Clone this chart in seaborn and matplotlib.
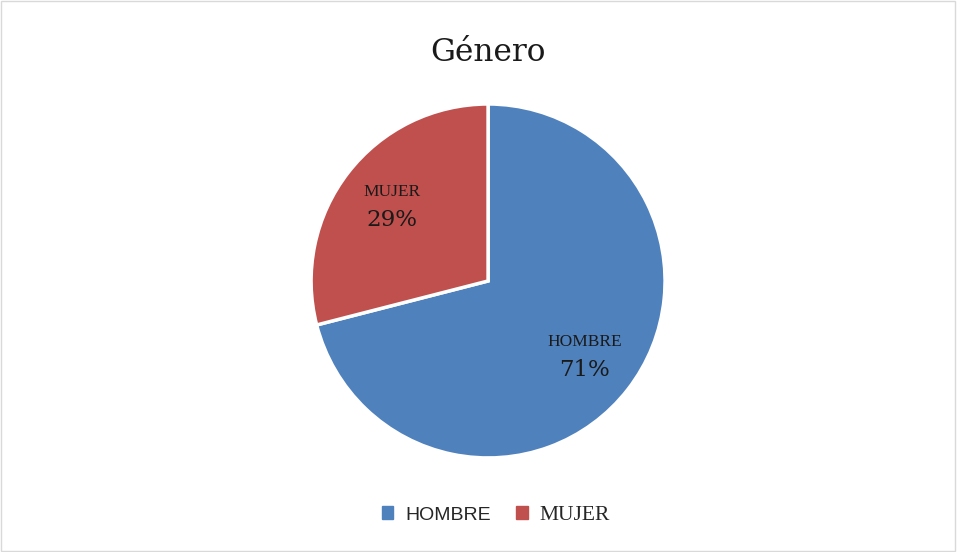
import matplotlib
matplotlib.use("Agg")
import matplotlib.pyplot as plt
import matplotlib.patches as mpatches
import numpy as np
import seaborn as sns

# datos
categorias = ["HOMBRE", "MUJER"]
porcentajes = [71, 29]
colores = ["#4F81BD", "#C0504D"]

sns.set_theme(style="white")
plt.rcParams['font.family'] = ['DejaVu Serif']

fig = plt.figure(figsize=(9.57, 5.52), dpi=100)
ax = fig.add_axes([0.326, 0.172, 0.368, 0.638])

wedges, _ = ax.pie(porcentajes, colors=colores, startangle=90, counterclock=False,
                   wedgeprops=dict(edgecolor="white", linewidth=2.5))
ax.set_aspect("auto")
ax.set_xlim(-0.995, 0.995)
ax.set_ylim(-0.995, 0.995)

# etiquetas dentro de cada porción
for w, cat, p in zip(wedges, categorias, porcentajes):
    ang = np.deg2rad((w.theta1 + w.theta2) / 2)
    x, y = 0.69 * np.cos(ang), 0.69 * np.sin(ang)
    ax.text(x, y + 0.08, cat, ha="center", va="center", fontsize=12.5,
            family="Liberation Serif", color="#1a1a1a")
    ax.text(x, y - 0.08, f"{p}%", ha="center", va="center", fontsize=16.5,
            family="DejaVu Serif", color="#1a1a1a")

fig.text(0.51, 0.905, "Género", ha="center", va="center", fontsize=22.5,
         family="DejaVu Serif", color="#1a1a1a")

# leyenda
handles = [mpatches.Patch(color=c, label=l) for c, l in zip(colores, categorias)]
leg = fig.legend(handles=handles, loc="center", bbox_to_anchor=(0.518, 0.067), ncol=2,
                 frameon=False, fontsize=14, handlelength=0.6, handleheight=0.6,
                 columnspacing=1.3, handletextpad=0.6)
leg.get_texts()[0].set_family("Liberation Sans")
leg.get_texts()[1].set_family("Liberation Serif")
leg.get_texts()[1].set_fontsize(15.5)

# borde del gráfico
fig.patches.append(mpatches.Rectangle((0.001, 0.002), 0.997, 0.996, transform=fig.transFigure,
                                      fill=False, edgecolor="#D9D9D9", linewidth=1))

fig.savefig("out.png", dpi=100)
